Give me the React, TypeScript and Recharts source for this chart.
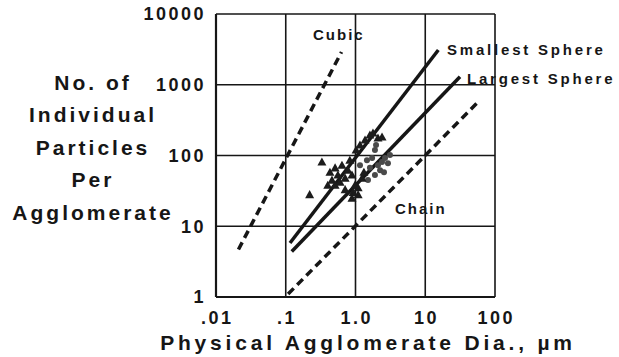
import React from 'react';
import { ScatterChart, Scatter, XAxis, YAxis, CartesianGrid } from 'recharts';

// ---- tick values & labels ----
const xTicks = [0.01, 0.1, 1, 10, 100];
const xTickLabels = ['.01', '.1', '1.0', '10', '100'];
const yTicks = [1, 10, 100, 1000, 10000];
const yTickLabels = ['1', '10', '100', '1000', '10000'];

// ---- reference lines (diameter d in µm, particle count n) ----
const cubicLine = [{ d: 0.021, n: 4.7 }, { d: 0.63, n: 2900 }];
const smallestSphereLine = [{ d: 0.115, n: 5.8 }, { d: 15.4, n: 3100 }];
const largestSphereLine = [{ d: 0.122, n: 4.4 }, { d: 31.5, n: 1300 }];
const chainLine = [{ d: 0.108, n: 1.1 }, { d: 57, n: 570 }];

// ---- measured agglomerates ----
const triangleData = [
  { d: 0.33, n: 81 }, { d: 0.22, n: 28 }, { d: 0.43, n: 58 }, { d: 0.51, n: 67 },
  { d: 0.56, n: 53 }, { d: 0.46, n: 45 }, { d: 0.6, n: 42 }, { d: 0.71, n: 48 },
  { d: 0.78, n: 62 }, { d: 0.64, n: 73 }, { d: 0.83, n: 86 }, { d: 0.89, n: 53 },
  { d: 0.98, n: 38 }, { d: 1.09, n: 35 }, { d: 0.92, n: 30 }, { d: 1.02, n: 120 },
  { d: 1.16, n: 141 }, { d: 1.37, n: 166 }, { d: 1.61, n: 195 }, { d: 1.78, n: 208 },
  { d: 2.1, n: 177 }, { d: 2.4, n: 183 }, { d: 1.24, n: 48 }, { d: 1.32, n: 58 },
  { d: 1.09, n: 28 }, { d: 0.89, n: 25 }, { d: 0.51, n: 38 }, { d: 0.4, n: 38 },
  { d: 0.71, n: 33 },
];
const circleData = [
  { d: 1.46, n: 86 }, { d: 1.73, n: 92 }, { d: 1.9, n: 120 }, { d: 2.1, n: 73 },
  { d: 2.4, n: 81 }, { d: 2.65, n: 92 }, { d: 2.92, n: 78 }, { d: 2.25, n: 62 },
  { d: 1.61, n: 67 }, { d: 1.9, n: 53 }, { d: 1.51, n: 45 }, { d: 3.12, n: 102 },
  { d: 1.97, n: 141 }, { d: 2.56, n: 58 }, { d: 1.16, n: 73 },
];

const FONT = '"Liberation Sans", Arial, Helvetica, sans-serif';
const INK = '#161616';

const NoShape = () => <g />;

const Triangle = (props: any) => {
  const { cx, cy } = props;
  const s = 4.5;
  return (
    <polygon
      points={`${cx},${cy - s} ${cx - s},${cy + s * 0.8} ${cx + s},${cy + s * 0.8}`}
      fill="#1c1c1c"
    />
  );
};

const Dot = (props: any) => {
  const { cx, cy } = props;
  return <circle cx={cx} cy={cy} r={3} fill="#4a4a4a" />;
};

const XTick = (props: any) => {
  const { x, y, payload } = props;
  const i = xTicks.indexOf(payload.value);
  return (
    <text x={x + 1.2} y={y} dy="0.71em" textAnchor="middle" fontFamily={FONT}
      fontWeight="bold" fontSize={18} letterSpacing={2.5} fill={INK}>
      {i >= 0 ? xTickLabels[i] : ''}
    </text>
  );
};

const YTick = (props: any) => {
  const { x, y, payload } = props;
  const i = yTicks.indexOf(payload.value);
  return (
    <text x={x} y={y} dy="0.36em" textAnchor="end" fontFamily={FONT}
      fontWeight="bold" fontSize={18} letterSpacing={2.5} fill={INK}>
      {i >= 0 ? yTickLabels[i] : ''}
    </text>
  );
};

const yTitleLines = ['No. of', 'Individual', 'Particles', 'Per', 'Agglomerate'];
const xTitle = 'Physical Agglomerate Dia., µm';

export default function App() {
  const dashed = { stroke: INK, strokeWidth: 3.5, strokeDasharray: '8 5' };
  const solid = { stroke: INK, strokeWidth: 3.5 };
  return (
    <div style={{ position: 'absolute', left: 0, top: 0, width: 619, height: 357, background: '#fff' }}>
      <ScatterChart width={619} height={357} margin={{ top: 14, right: 124, bottom: 30, left: 156 }}>
        <CartesianGrid stroke={INK} strokeWidth={1.6} fill="none" />
        <XAxis
          dataKey="d" type="number" scale="log" domain={[0.01, 100]} ticks={xTicks}
          allowDataOverflow interval={0} height={30} tickSize={0} tickMargin={14}
          axisLine={{ stroke: INK, strokeWidth: 2.2 }} tickLine={false} tick={<XTick />}
        />
        <YAxis
          dataKey="n" type="number" scale="log" domain={[1, 10000]} ticks={yTicks}
          allowDataOverflow interval={0} width={60} tickSize={0} tickMargin={10}
          axisLine={{ stroke: INK, strokeWidth: 2.2 }} tickLine={false} tick={<YTick />}
        />
        <Scatter data={cubicLine} line={dashed} shape={<NoShape />} isAnimationActive={false} />
        <Scatter data={chainLine} line={dashed} shape={<NoShape />} isAnimationActive={false} />
        <Scatter data={smallestSphereLine} line={solid} shape={<NoShape />} isAnimationActive={false} />
        <Scatter data={largestSphereLine} line={solid} shape={<NoShape />} isAnimationActive={false} />
        <Scatter data={circleData} shape={<Dot />} isAnimationActive={false} />
        <Scatter data={triangleData} shape={<Triangle />} isAnimationActive={false} />
      </ScatterChart>
      <svg width={619} height={357} style={{ position: 'absolute', left: 0, top: 0, pointerEvents: 'none' }}>
        <g fontFamily={FONT} fontWeight="bold" fill={INK}>
          {yTitleLines.map((t, i) => (
            <text key={t} x={93} y={82 + i * 32.5} dy="0.36em" textAnchor="middle" fontSize={21} letterSpacing={3}>
              {t}
            </text>
          ))}
          <text x={368} y={350} textAnchor="middle" fontSize={21} letterSpacing={3.8}>
            {xTitle}
          </text>
          <text x={313} y={35} dy="0.36em" fontSize={15} letterSpacing={2}>Cubic</text>
          <text x={447} y={50} dy="0.36em" fontSize={15} letterSpacing={2.8}>Smallest Sphere</text>
          <text x={467} y={79} dy="0.36em" fontSize={15} letterSpacing={2.8}>Largest Sphere</text>
          <text x={395} y={209} dy="0.36em" fontSize={15} letterSpacing={2}>Chain</text>
        </g>
      </svg>
    </div>
  );
}
